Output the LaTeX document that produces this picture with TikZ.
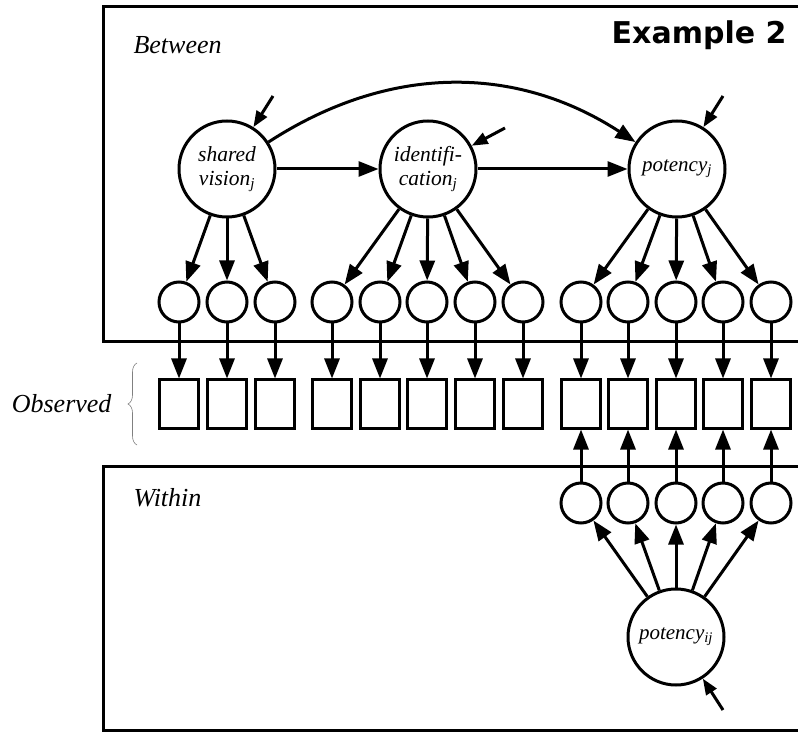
\documentclass[tikz,border=0pt]{standalone}
\usepackage{fontspec}
\setmainfont{Liberation Serif}
\newfontfamily\headfont{DejaVu Sans}
\usetikzlibrary{arrows.meta,decorations.pathreplacing}

\begin{document}
\begin{tikzpicture}[x=1pt,y=1pt,
	latent/.style={draw, circle, line width=3pt, minimum size=96pt, inner sep=0pt, align=center, font=\itshape\fontsize{21.5}{24}\selectfont},
	resid/.style={draw, circle, line width=3pt, minimum size=40pt, inner sep=0pt},
	obs/.style={draw, rectangle, line width=3pt, minimum width=39pt, minimum height=48pt, inner sep=0pt},
	arr/.style={line width=3pt, -{Triangle[length=20pt, width=15pt]}},
	dist/.style={line width=3pt, -{Triangle[length=16pt, width=12pt]}},
	level/.style={line width=3pt},
	lbl/.style={font=\itshape\fontsize{26}{30}\selectfont}
]

\useasboundingbox (0,0) rectangle (798,732);

% LEVELS
\draw [level] (798,725) -- (103,725) -- (103,390) -- (798,390);
\draw [level] (798,266) -- (103,266) -- (103,2) -- (798,2);
\node [lbl, anchor=west] (between) at (130,687) {Between};
\node [lbl, anchor=west] (within) at (130,234) {Within};
\node [lbl, anchor=east] (observed) at (115,328) {Observed};
\node [anchor=east, font=\headfont\bfseries\fontsize{30}{30}\selectfont] (title) at (790,697) {Example 2};

% BRACE
\coordinate (brb) at (137,287);
\coordinate (brt) at (137,369);
\draw [decorate, decoration={brace, amplitude=9pt}, line width=0.6pt, gray] (brb) -- (brt);

% LATENT
\node [latent] (sv) at (227,563) {shared\\vision\textsubscript{j}};
\node [latent] (id) at (428,563) {identifi-\\cation\textsubscript{j}};
\node [latent, font=\itshape\fontsize{21}{24}\selectfont] (pj) at (677,563) {potency\textsubscript{j}};
\node [latent, font=\itshape\fontsize{21}{24}\selectfont] (pij) at (676,95) {potency\textsubscript{ij}};

% ITEMS
\foreach \i/\x in {1/179, 2/227, 3/275, 4/332, 5/380, 6/427, 7/475, 8/523, 9/581, 10/628, 11/676, 12/723, 13/771} {
	\node [resid] (b\i) at (\x,430) {};
	\node [obs] (o\i) at (\x,328) {};
	\draw [arr] (b\i) -- (o\i);
}
\foreach \i/\x in {9/581, 10/628, 11/676, 12/723, 13/771} {
	\node [resid] (w\i) at (\x,229) {};
	\draw [arr] (w\i) -- (o\i);
}

% LOADINGS
\foreach \i in {1,2,3} \draw [arr] (sv) -- (b\i);
\foreach \i in {4,...,8} \draw [arr] (id) -- (b\i);
\foreach \i in {9,...,13} {
	\draw [arr] (pj) -- (b\i);
	\draw [arr] (pij) -- (w\i);
}

% PATHS
\draw [arr] (sv) -- (id);
\draw [arr] (id) -- (pj);
\draw [arr] (sv) to[out=33, in=147] (pj);

% DISTURBANCES
\coordinate (esv) at (273,636);
\coordinate (eid) at (505,604);
\coordinate (epj) at (723,636);
\coordinate (epij) at (723,22);
\draw [dist] (esv) -- (sv);
\draw [dist] (eid) -- (id);
\draw [dist] (epj) -- (pj);
\draw [dist] (epij) -- (pij);

\end{tikzpicture}
\end{document}
